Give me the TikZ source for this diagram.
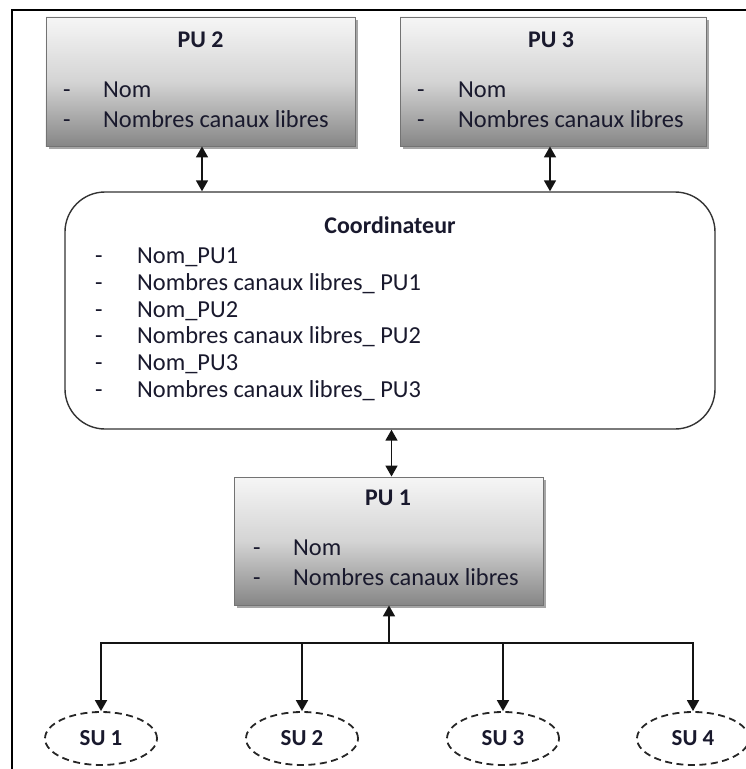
\documentclass[tikz,border=0pt]{standalone}
\usepackage{fontspec}
\setmainfont{Carlito}
\usetikzlibrary{shapes.geometric,arrows.meta,shadows}
\definecolor{txt}{RGB}{25,25,45}
\definecolor{gtop}{RGB}{246,246,246}
\definecolor{gmid}{RGB}{212,212,212}
\definecolor{gbot}{RGB}{134,134,134}
\definecolor{bord}{RGB}{115,115,115}
\definecolor{lnk}{RGB}{20,20,20}
\begin{document}
\begin{tikzpicture}[x=1bp,y=-1bp,
  >={Triangle[width=12bp,length=11bp]},
  pubox/.style={draw=bord, line width=0.9bp, top color=gtop, bottom color=gbot, middle color=gmid,
    minimum width=309bp, minimum height=129bp, inner sep=0pt,
    drop shadow={shadow xshift=3bp,shadow yshift=-3bp,opacity=0.35,fill=black}},
  coordbox/.style={draw=black!80, line width=1.4bp, fill=white, rounded corners=40bp,
    minimum width=650bp, minimum height=237bp, inner sep=0pt},
  sunode/.style={ellipse, draw=black!85, dashed, dash pattern=on 7bp off 4.5bp, line width=1.8bp,
    minimum width=112bp, minimum height=53bp, inner sep=0pt,
    font=\fontsize{23}{28}\selectfont\bfseries, text=txt},
  ttl/.style={font=\fontsize{24}{29}\selectfont\bfseries, text=txt, anchor=base, inner sep=0pt},
  itm/.style={font=\fontsize{24.5}{29}\selectfont, text=txt, anchor=base west, inner sep=0pt},
  link/.style={line width=1.7bp, draw=lnk}
]
\useasboundingbox (0,0) rectangle (746,769);
% frame
\draw[line width=2bp] (12,769) -- (12,10) -- (746,10);

% PU 2
\node[pubox] (pu2) at (200.5,81.5) {};
\node[ttl] (pu2t) at (200.5,48) {PU 2};
\node[itm] (pu2d1) at (63,97) {-};
\node[itm] (pu2a) at (103,97) {Nom};
\node[itm] (pu2d2) at (63,127) {-};
\node[itm] (pu2b) at (103,127) {Nombres canaux libres};

% PU 3
\node[pubox, minimum width=306bp] (pu3) at (553,81.5) {};
\node[ttl] (pu3t) at (551,48) {PU 3};
\node[itm] (pu3d1) at (417,97) {-};
\node[itm] (pu3a) at (458,97) {Nom};
\node[itm] (pu3d2) at (417,127) {-};
\node[itm] (pu3b) at (458,127) {Nombres canaux libres};

% Coordinateur
\node[coordbox] (coord) at (390,310.5) {};
\node[ttl] (coordt) at (390,233) {Coordinateur};
\node[itm] (cd1) at (95,263) {-};
\node[itm] (ci1) at (137,263) {Nom\_PU1};
\node[itm] (cd2) at (95,290) {-};
\node[itm] (ci2) at (137,290) {Nombres canaux libres\_ PU1};
\node[itm] (cd3) at (95,317) {-};
\node[itm] (ci3) at (137,317) {Nom\_PU2};
\node[itm] (cd4) at (95,343) {-};
\node[itm] (ci4) at (137,343) {Nombres canaux libres\_ PU2};
\node[itm] (cd5) at (95,370) {-};
\node[itm] (ci5) at (137,370) {Nom\_PU3};
\node[itm] (cd6) at (95,397) {-};
\node[itm] (ci6) at (137,397) {Nombres canaux libres\_ PU3};

% PU 1
\node[pubox, minimum height=128bp] (pu1) at (388.5,541) {};
\node[ttl] (pu1t) at (388,505) {PU 1};
\node[itm] (pu1d1) at (253,555) {-};
\node[itm] (pu1a) at (293,555) {Nom};
\node[itm] (pu1d2) at (253,585) {-};
\node[itm] (pu1b) at (293,585) {Nombres canaux libres};

% SU
\node[sunode] (su1) at (101,738.5) {SU 1};
\node[sunode] (su2) at (302,738.5) {SU 2};
\node[sunode] (su3) at (503,738.5) {SU 3};
\node[sunode] (su4) at (693,738.5) {SU 4};

% connectors
\draw[link,<->] ([xshift=1.5bp]pu2.south) -- ([xshift=1.5bp]pu2.south |- coord.north);
\draw[link,<->] ([xshift=-3bp]pu3.south) -- ([xshift=-3bp]pu3.south |- coord.north);
\draw[link,<->] ([xshift=1.5bp]coord.south) -- ([xshift=1.5bp]coord.south |- pu1.north);
\coordinate (bus) at (389,643);
\draw[link,->] (bus) -- (bus |- pu1.south);
\draw[link,->] (bus) -| (su1.north);
\draw[link,->] (bus) -| (su2.north);
\draw[link,->] (bus) -| (su3.north);
\draw[link,->] (bus) -| (su4.north);
\end{tikzpicture}
\end{document}
